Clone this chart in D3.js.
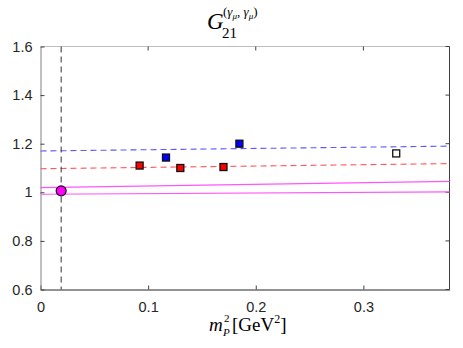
<!DOCTYPE html>
<html>
<head>
<meta charset="utf-8">
<script src="https://cdn.jsdelivr.net/npm/d3@7"></script>
<style>
  body { margin: 0; background: #fff; }
  .tick text { font-family: "Liberation Sans", Arial, sans-serif; font-size: 14.5px; fill: #262626; }
  .math { font-family: "Liberation Serif", "DejaVu Serif", serif; fill: #000; }
</style>
</head>
<body>
<div id="chart"></div>
<script>
// data
var xTicks = [0, 0.1, 0.2, 0.3];
var yTicks = [0.6, 0.8, 1, 1.2, 1.4, 1.6];
var xTickLabels = ["0", "0.1", "0.2", "0.3"];
var yTickLabels = ["0.6", "0.8", "1", "1.2", "1.4", "1.6"];

var physX = 0.0192;               // vertical dashed line
var physPoint = [0.0192, 1.006];  // magenta circle

var redPts = [[0.0921, 1.110], [0.1299, 1.100], [0.1700, 1.104]];
var bluePts = [[0.1166, 1.143], [0.1848, 1.200]];
var whitePts = [[0.3305, 1.160]];

// fit lines: [x, y] at both ends
var blueFit = [[0, 1.170], [0.38, 1.190]];
var redFit = [[0, 1.097], [0.38, 1.118]];
var bandUpper = [[0, 1.019], [0.38, 1.045]];
var bandLower = [[0, 0.992], [0.38, 1.002]];

var W = 463, H = 348;
var margin = {top: 46.5, right: 13.5, bottom: 58.5, left: 40.5},
    width = W - margin.left - margin.right,
    height = H - margin.top - margin.bottom;

var svg = d3.select("#chart").append("svg")
    .attr("width", W)
    .attr("height", H);

var g = svg.append("g")
    .attr("transform", "translate(" + margin.left + "," + margin.top + ")");

var x = d3.scaleLinear().domain([0, 0.38]).range([0, width]);
var y = d3.scaleLinear().domain([0.6, 1.6]).range([height, 0]);

// box
g.append("line").attr("x1", 0).attr("x2", width).attr("y1", 0).attr("y2", 0)
  .attr("stroke", "#bdbdbd");
g.append("line").attr("x1", width).attr("x2", width).attr("y1", 0).attr("y2", height)
  .attr("stroke", "#404040");

// axes with inward ticks
var xAxis = g.append("g")
  .attr("transform", "translate(0," + height + ")")
  .call(d3.axisBottom(x).tickValues(xTicks).tickSizeInner(-4).tickSizeOuter(0)
    .tickFormat(function(d, i) { return xTickLabels[i]; }));
xAxis.selectAll("text").attr("dy", "1.35em");

var yAxis = g.append("g")
  .call(d3.axisLeft(y).tickValues(yTicks).tickSizeInner(-4).tickSizeOuter(0)
    .tickFormat(function(d, i) { return yTickLabels[i]; }));
yAxis.selectAll("text").attr("x", -8);

xAxis.select(".domain").attr("stroke", "#262626");
yAxis.select(".domain").attr("stroke", "#808080");
g.selectAll(".tick line").attr("stroke", "#404040");

// mirrored ticks top and right
g.selectAll("line.top-tick")
  .data(xTicks.slice(1))
  .enter().append("line")
    .attr("class", "top-tick")
    .attr("x1", function(d) { return x(d); })
    .attr("x2", function(d) { return x(d); })
    .attr("y1", 0).attr("y2", 4)
    .attr("stroke", "#404040");
g.selectAll("line.right-tick")
  .data(yTicks)
  .enter().append("line")
    .attr("class", "right-tick")
    .attr("x1", width).attr("x2", width - 4)
    .attr("y1", function(d) { return y(d); })
    .attr("y2", function(d) { return y(d); })
    .attr("stroke", "#404040");

var line = d3.line()
  .x(function(d) { return x(d[0]); })
  .y(function(d) { return y(d[1]); });

// magenta band
[bandUpper, bandLower].forEach(function(b) {
  g.append("path").datum(b)
    .attr("d", line)
    .attr("fill", "none")
    .attr("stroke", "#ff55ff")
    .attr("stroke-width", 1.2);
});

// fit lines
g.append("path").datum(blueFit)
  .attr("d", line).attr("fill", "none")
  .attr("stroke", "#5a5aff").attr("stroke-width", 1.1)
  .attr("stroke-dasharray", "6,4");
g.append("path").datum(redFit)
  .attr("d", line).attr("fill", "none")
  .attr("stroke", "#ff5a5a").attr("stroke-width", 1.1)
  .attr("stroke-dasharray", "6,4");

// physical point line
g.append("line")
  .attr("x1", x(physX)).attr("x2", x(physX))
  .attr("y1", 0).attr("y2", height)
  .attr("stroke", "#333").attr("stroke-width", 1)
  .attr("stroke-dasharray", "6,4");

// squares
function squares(data, fill, cls) {
  g.selectAll("rect." + cls)
    .data(data)
    .enter().append("rect")
      .attr("class", cls)
      .attr("x", function(d) { return x(d[0]) - 3.5; })
      .attr("y", function(d) { return y(d[1]) - 3.5; })
      .attr("width", 7).attr("height", 7)
      .attr("fill", fill)
      .attr("stroke", "#111").attr("stroke-width", 1.3);
}
squares(redPts, "#ff0000", "red-sq");
squares(bluePts, "#0000ff", "blue-sq");
squares(whitePts, "#ffffff", "white-sq");

g.append("circle")
  .attr("cx", x(physPoint[0]))
  .attr("cy", y(physPoint[1]))
  .attr("r", 5)
  .attr("fill", "#ff00ff")
  .attr("stroke", "#111").attr("stroke-width", 1.2);

// title: G, subscript 21 and superscript as separate texts
svg.append("text").attr("class", "math")
  .attr("x", 207).attr("y", 29)
  .attr("font-style", "italic").attr("font-size", "23px").text("G");
svg.append("text").attr("class", "math")
  .attr("x", 222).attr("y", 38)
  .attr("font-size", "15px").text("21");
var sup = svg.append("text").attr("class", "math")
  .attr("x", 223).attr("y", 16).attr("font-size", "13px");
sup.append("tspan").text("(");
sup.append("tspan").attr("font-style", "italic").text("γ");
sup.append("tspan").attr("font-size", "9px").attr("font-style", "italic").attr("dy", 3).text("μ");
sup.append("tspan").attr("dy", -3).text(", ");
sup.append("tspan").attr("font-style", "italic").text("γ");
sup.append("tspan").attr("font-size", "9px").attr("font-style", "italic").attr("dy", 3).text("μ");
sup.append("tspan").attr("dy", -3).text(")");

// x label
svg.append("text").attr("class", "math")
  .attr("x", 209).attr("y", 331)
  .attr("font-style", "italic").attr("font-size", "19px").text("m");
svg.append("text").attr("class", "math")
  .attr("x", 224).attr("y", 322).attr("font-size", "11px").text("2");
svg.append("text").attr("class", "math")
  .attr("x", 223).attr("y", 336).attr("font-style", "italic").attr("font-size", "11px").text("P");
var gev = svg.append("text").attr("class", "math")
  .attr("x", 232).attr("y", 331).attr("font-size", "19px");
gev.append("tspan").text("[GeV");
gev.append("tspan").attr("font-size", "12px").attr("dy", -8).text("2");
gev.append("tspan").attr("dy", 8).text("]");
</script>
</body>
</html>
